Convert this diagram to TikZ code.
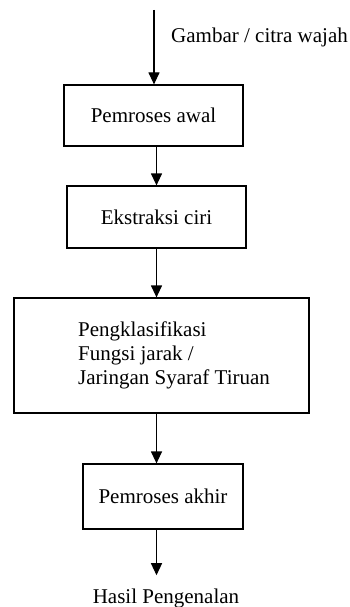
\documentclass[tikz,border=0pt]{standalone}
\usepackage{fontspec}
\setmainfont{Liberation Serif}
\usetikzlibrary{arrows.meta}
\begin{document}
\begin{tikzpicture}[x=1pt,y=-1pt,
	kotak/.style={draw,line width=1.2pt,inner sep=0pt,font=\fontsize{21}{24}\selectfont},
	teks/.style={inner sep=0pt,font=\fontsize{21}{24}\selectfont},
	panah/.style={line width=1.2pt,-{Triangle[length=12pt,width=11pt]}}]
	\useasboundingbox (0,0) rectangle (350,607);
	\coordinate (masuk) at (154,10);
	\node[teks,anchor=base west] (gambar) at (171,43) {Gambar / citra wajah};
	\node[kotak,minimum width=179pt,minimum height=61pt] (awal) at (153.5,115.5) {Pemroses awal};
	\node[kotak,minimum width=179pt,minimum height=62pt] (ciri) at (156.5,217) {Ekstraksi ciri};
	\node[kotak,minimum width=295pt,minimum height=115pt] (klas) at (161.5,355.5) {};
	\node[teks,anchor=west,align=left] (klasteks) at (78,355) {Pengklasifikasi\\Fungsi jarak /\\Jaringan Syaraf Tiruan};
	\node[kotak,minimum width=160pt,minimum height=65pt] (akhir) at (163,496.5) {Pemroses akhir};
	\node[teks,anchor=base,inner ysep=13pt] (hasil) at (166,603) {Hasil Pengenalan};
	\draw[panah] (masuk) -- (awal.north -| masuk);
	\draw[panah] (awal.south -| ciri) -- (ciri);
	\draw[panah] (ciri) -- (klas.north -| ciri);
	\draw[panah] (klas.south -| ciri) -- (akhir.north -| ciri);
	\draw[panah] (akhir.south -| ciri) -- (hasil.north -| ciri);
\end{tikzpicture}
\end{document}
